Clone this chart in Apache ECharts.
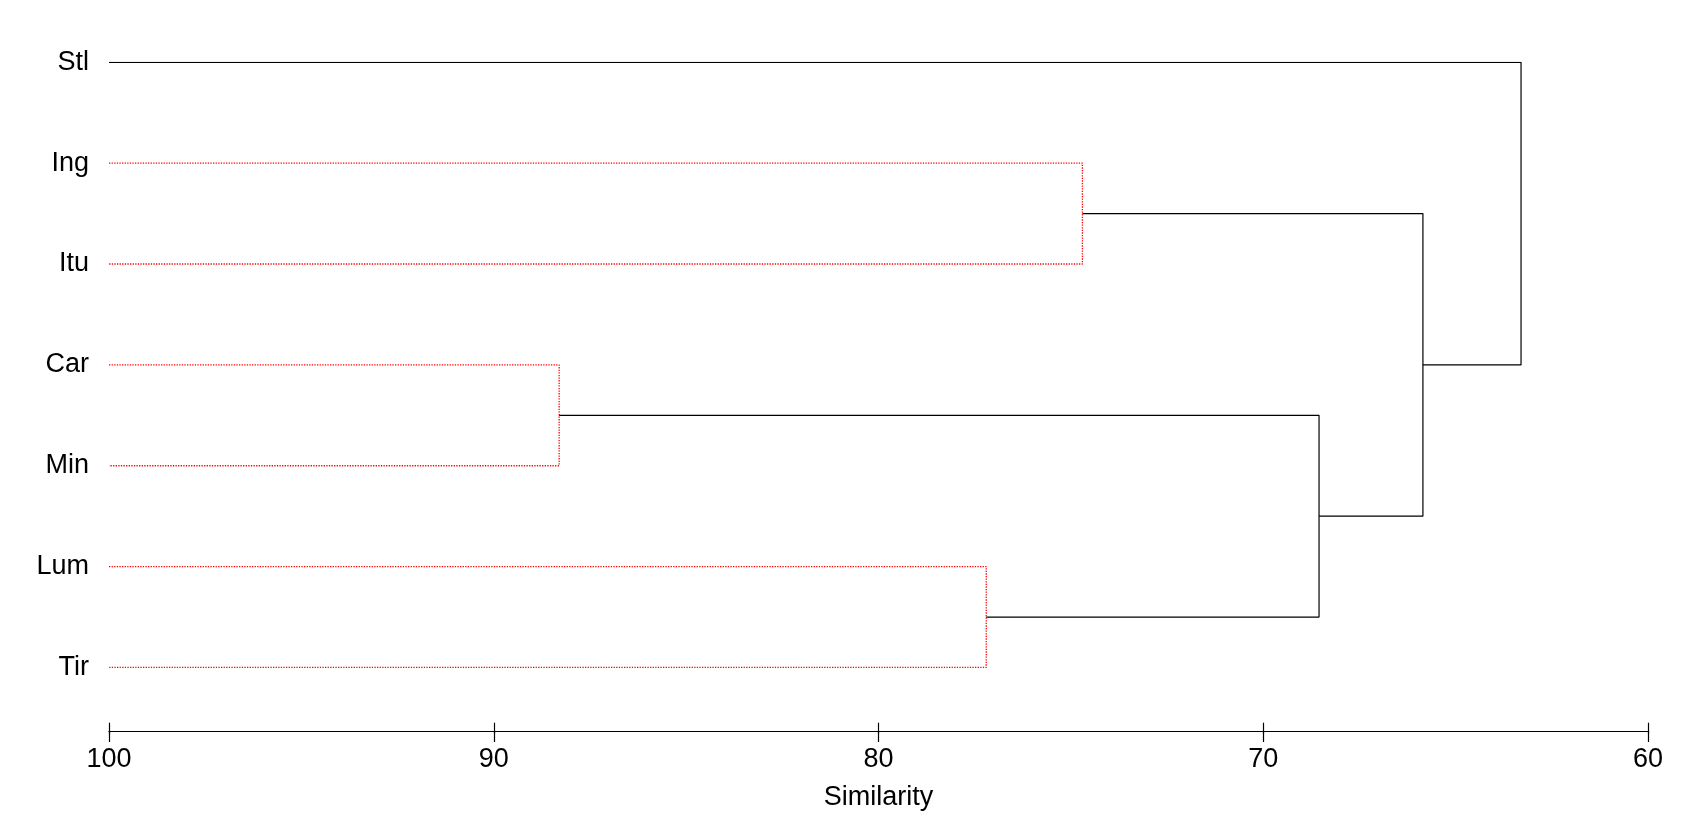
<!DOCTYPE html>
<html>
<head>
<meta charset="utf-8">
<script src="https://cdn.jsdelivr.net/npm/echarts@6/dist/echarts.min.js"></script>
<style>
  html, body { margin: 0; padding: 0; background: #fff; }
  #chart { width: 1692px; height: 816px; }
</style>
</head>
<body>
<div id="chart"></div>
<script>
// leaves, top to bottom
const leaves = ['Stl', 'Ing', 'Itu', 'Car', 'Min', 'Lum', 'Tir']
// merges: negative = leaf number (1-based), positive = earlier merge (1-based)
const mergeLeft = [-4, -6, -2, 1, 3, -1]
const mergeRight = [-5, -7, -3, 2, 4, 5]
const mergeHeight = [88.3, 77.2, 74.7, 68.55, 65.85, 63.3]
const xTicks = [100, 90, 80, 70, 60]

const leafHeight = 100

// position (y) and height (x) of a leaf or merge node
const nodePos = []
function node(ref) {
  if (ref < 0) return {x: leafHeight, y: -ref - 1}
  return nodePos[ref - 1]
}

const series = []
mergeHeight.forEach((h, i) => {
  const a = node(mergeLeft[i])
  const b = node(mergeRight[i])
  nodePos.push({x: h, y: (a.y + b.y) / 2})
  const bothLeaves = mergeLeft[i] < 0 && mergeRight[i] < 0
  series.push({
    type: 'line',
    data: [[a.x, a.y], [h, a.y], [h, b.y], [b.x, b.y]],
    showSymbol: false,
    symbol: 'none',
    silent: true,
    lineStyle: bothLeaves
      ? {color: '#ff0000', width: 1.3, type: 'dotted'}
      : {color: '#000000', width: 1.2, type: 'solid'}
  })
})

const font = '"Liberation Sans", Arial, sans-serif'
const gridBox = {left: 109, right: 44, top: 62.3, bottom: 82.3}

const chart = echarts.init(document.getElementById('chart'))
chart.setOption({
  animation: false,
  backgroundColor: '#ffffff',
  grid: [gridBox, gridBox],
  xAxis: [
    {
      type: 'value',
      gridIndex: 0,
      min: 60,
      max: 100,
      interval: 10,
      inverse: true,
      position: 'bottom',
      name: 'Similarity',
      nameLocation: 'middle',
      nameGap: 53,
      nameTextStyle: {color: '#000', fontSize: 27, fontFamily: font},
      axisLine: {onZero: false, lineStyle: {color: '#000', width: 1.2}},
      axisTick: {length: 11, lineStyle: {color: '#000', width: 1.2}},
      axisLabel: {
        color: '#000', fontSize: 27, fontFamily: font, margin: 15,
        formatter: v => xTicks.includes(v) ? String(v) : ''
      },
      splitLine: {show: false}
    },
    {
      // inner half of the ticks
      type: 'value',
      gridIndex: 1,
      min: 60,
      max: 100,
      interval: 10,
      inverse: true,
      position: 'bottom',
      axisLine: {show: false, onZero: false},
      axisTick: {inside: true, length: 11, lineStyle: {color: '#000', width: 1.2}},
      axisLabel: {show: false},
      splitLine: {show: false}
    }
  ],
  yAxis: [
    {
      type: 'value',
      gridIndex: 0,
      min: 0,
      max: 6.63,
      interval: 1,
      inverse: true,
      axisLine: {show: false},
      axisTick: {show: false},
      splitLine: {show: false},
      axisLabel: {
        color: '#000', fontSize: 27, fontFamily: font, margin: 20,
        formatter: v => Number.isInteger(v) && leaves[v] ? leaves[v] : ''
      }
    },
    {
      type: 'value',
      gridIndex: 1,
      min: 0,
      max: 1,
      show: false
    }
  ],
  series: series
})
</script>
</body>
</html>
